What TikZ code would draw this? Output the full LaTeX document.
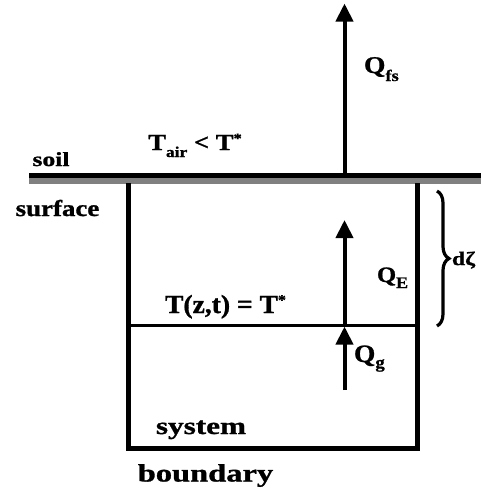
\documentclass[tikz,border=0pt]{standalone}
\usepackage{fontspec}
\setmainfont{Liberation Serif}[BoldFeatures={FakeBold=1}]
\usetikzlibrary{arrows.meta,decorations.pathreplacing}
\definecolor{surfgray}{RGB}{128,128,128}
\newcommand\lb[3]{\scalebox{#2}[1]{\fontsize{#1}{#1}\selectfont\bfseries #3}}
\newcommand\smallsub[3]{\raisebox{-#1pt}{\fontsize{#2}{#2}\selectfont #3}}
\newcommand\smallsup[3]{\raisebox{#1pt}{\fontsize{#2}{#2}\selectfont #3}}
\begin{document}
\begin{tikzpicture}[x=1pt,y=-1pt,
  every node/.style={inner sep=0pt,outer sep=0pt},
  lbl/.style={anchor=base},
  arr/.style={line width=4pt,-{Triangle[length=18pt,width=17pt]}},
  wall/.style={line width=5pt,line join=miter}]
\useasboundingbox (0,0) rectangle (481,496);
% soil surface
\draw[line width=7pt,surfgray] (29,180.5) -- (481,180.5);
\draw[line width=5pt] (29,175.8) -- (481,175.8);
% system boundary box
\draw[wall] (128.5,183) -- (128.5,448) -- (417.5,448) -- (417.5,183);
% freezing front
\draw[line width=3.5pt] (128.5,325.3) coordinate (fl) -- (417.5,325.3) coordinate (fr);
% arrows
\coordinate (fsb) at (344.5,173);
\coordinate (fst) at (344.5,3.5);
\coordinate (eb) at (344.5,325);
\coordinate (et) at (344.5,220);
\coordinate (gb) at (344.5,390);
\coordinate (gt) at (344.5,326.5);
\draw[arr] (fsb) -- (fst);
\draw[arr] (eb) -- (et);
\draw[arr] (gb) -- (gt);
% brace
\coordinate (bt) at (437,191);
\coordinate (bb) at (437,326);
\draw[line width=3.2pt,decorate,decoration={brace,amplitude=12pt}] (bt) -- (bb);
% labels
\node[lbl] (soil) at (51,166) {\lb{20}{1.28}{soil}};
\node[lbl] (surface) at (57.5,216) {\lb{23}{1.17}{surface}};
\node[lbl] (tair) at (195,150) {\lb{23}{1.16}{T\smallsub{7}{15}{air} < T\smallsup{7}{14}{*}}};
\node[lbl,anchor=base west] (qfs) at (364,73) {\lb{24}{1.15}{Q\smallsub{8}{16}{fs}}};
\node[lbl] (tzt) at (225.5,313) {\lb{26}{1.06}{T(z,t) = T\smallsup{8}{15}{*}}};
\node[lbl,anchor=base west] (qe) at (377,282) {\lb{22}{1.12}{Q\smallsub{6}{16}{E}}};
\node[lbl,anchor=base west] (qg) at (354,362) {\lb{25}{1.1}{Q\smallsub{6}{17}{g}}};
\node[lbl,anchor=base west] (dz) at (452,265) {\lb{19}{1.25}{dζ}};
\node[lbl] (system) at (201,434) {\lb{24}{1.3}{system}};
\node[lbl] (boundary) at (205.5,481.5) {\lb{25}{1.3}{boundary}};
\end{tikzpicture}
\end{document}
